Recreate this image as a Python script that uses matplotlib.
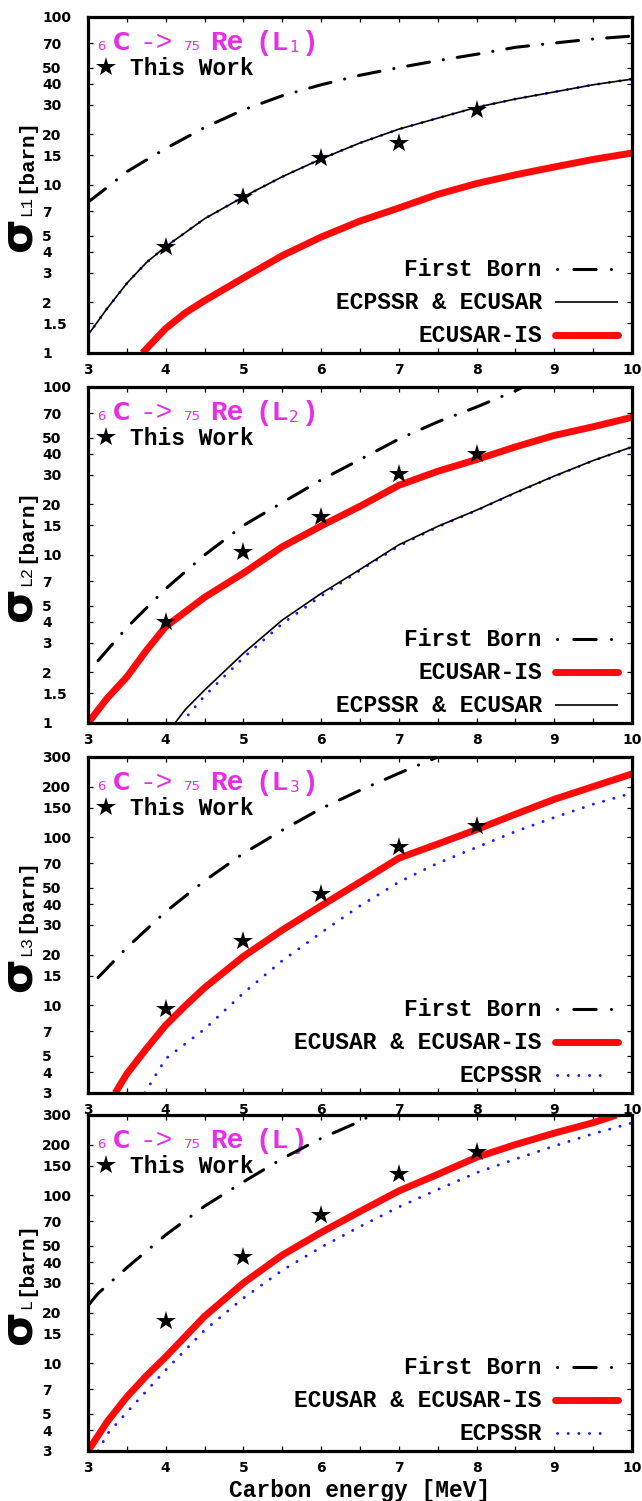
import matplotlib
matplotlib.use("Agg")
import matplotlib.pyplot as plt
from matplotlib.lines import Line2D
from matplotlib.transforms import ScaledTranslation
from matplotlib.ticker import FixedLocator, NullLocator, FixedFormatter

# ---------------- data ----------------
E_exp = [4, 5, 6, 7, 8]

# L1 subshell
E_L1_born = [3, 3.25, 3.5, 4, 4.5, 5, 5.5, 6, 6.5, 7, 7.5, 8, 8.5, 9, 9.5, 10]
L1_born = [7.9, 9.7, 12, 16.5, 22, 28, 34, 39.5, 45, 50, 55, 60, 66, 70, 74, 77]
E_L1_ecpssr = [3, 3.25, 3.5, 3.75, 4, 4.25, 4.5, 5, 5.5, 6, 6.5, 7, 7.5, 8, 8.5, 9, 9.5, 10]
L1_ecpssr = [1.28, 1.85, 2.6, 3.45, 4.3, 5.2, 6.3, 8.5, 11.2, 14.3, 17.8, 21.5, 25, 29, 32.5, 35.8, 39.5, 42.7]
E_L1_is = [3.7, 4, 4.25, 4.5, 5, 5.5, 6, 6.5, 7, 7.5, 8, 8.5, 9, 9.5, 10]
L1_is = [1.0, 1.4, 1.73, 2.05, 2.8, 3.8, 4.9, 6.1, 7.3, 8.8, 10.2, 11.5, 12.8, 14.2, 15.5]
L1_exp = [4.3, 8.5, 14.5, 17.8, 28]

# L2 subshell
E_L2_born = [3.13, 3.5, 4, 4.5, 5, 5.5, 6, 6.5, 7, 7.5, 8, 8.5, 8.7]
L2_born = [2.35, 3.7, 6.3, 10, 15, 20.5, 28, 37, 49, 62, 76, 95, 105]
E_L2_is = [3, 3.25, 3.5, 3.75, 4, 4.5, 5, 5.5, 6, 6.5, 7, 7.5, 8, 8.5, 9, 9.5, 10]
L2_is = [1.0, 1.41, 1.88, 2.7, 3.75, 5.6, 7.8, 11.2, 14.9, 19.5, 26, 31.5, 37, 44, 51.5, 58, 66]
E_L2_ecusar = [4.12, 4.25, 4.5, 5, 5.5, 6, 6.5, 7, 7.5, 8, 8.5, 9, 9.5, 10]
L2_ecusar = [1.0, 1.2, 1.57, 2.6, 4.1, 5.9, 8.2, 11.5, 14.8, 18.5, 23.5, 29.5, 36.5, 44]
E_L2_ecpssr = [4.2, 4.5, 5, 5.5, 6, 6.5, 7, 7.5, 8, 8.5, 9, 9.5, 10]
L2_ecpssr = [1.0, 1.45, 2.45, 3.9, 5.7, 8.1, 11.3, 14.7, 18.4, 23.4, 29.4, 36.4, 44]
L2_exp = [4.0, 10.4, 16.8, 30.3, 39.9]

# L3 subshell
E_L3_born = [3.13, 3.5, 4, 4.5, 5, 5.5, 6, 6.5, 7, 7.5]
L3_born = [14.6, 22, 36, 55, 80, 110, 148, 190, 240, 300]
E_L3_is = [3.35, 3.5, 3.75, 4, 4.25, 4.5, 5, 5.5, 6, 6.5, 7, 7.5, 8, 8.5, 9, 9.5, 10]
L3_is = [3.0, 3.9, 5.5, 7.6, 9.9, 12.7, 19.5, 28, 39, 54, 75, 91, 111, 137, 168, 200, 238]
E_L3_ecpssr = [3.73, 4, 4.5, 5, 5.5, 6, 6.5, 7, 7.5, 8, 8.5, 9, 9.5, 10]
L3_ecpssr = [3.0, 4.8, 7.2, 11.8, 18.4, 27, 39, 54, 70, 87, 108, 131, 157, 183]
L3_exp = [9.5, 24.2, 46, 87, 116]

# total L shell
E_L_born = [3.0, 3.13, 3.5, 4, 4.5, 5, 5.5, 6, 6.5, 6.65]
L_born = [22, 26, 37, 58, 86, 120, 165, 218, 275, 300]
E_L_is = [3, 3.25, 3.5, 3.75, 4, 4.5, 5, 5.5, 6, 6.5, 7, 7.5, 8, 8.5, 9, 9.5, 9.8]
L_is = [3.0, 4.5, 6.3, 8.4, 10.9, 19, 30, 44, 60, 80, 106, 133, 168, 200, 234, 270, 300]
E_L_ecpssr = [3.13, 3.25, 3.5, 4, 4.5, 5, 5.5, 6, 6.5, 7, 7.5, 8, 8.5, 9, 9.5, 10]
L_ecpssr = [3.0, 3.8, 5.1, 9.1, 15.7, 24.4, 35.7, 49, 65, 85, 108, 136, 164, 196, 232, 269]
L_exp = [17.8, 42.8, 76, 134, 180]

xticks = [3, 4, 5, 6, 7, 8, 9, 10]
xminor = [3.5, 4.5, 5.5, 6.5, 7.5, 8.5, 9.5]
yticks_low = [1, 1.5, 2, 3, 4, 5, 7, 10, 15, 20, 30, 40, 50, 70, 100]
ytick_labels_low = ["1", "1.5", "2", "3", "4", "5", "7", "10", "15", "20", "30", "40", "50", "70", "100"]
yticks_high = [3, 4, 5, 7, 10, 15, 20, 30, 40, 50, 70, 100, 150, 200, 300]
ytick_labels_high = ["3", "4", "5", "7", "10", "15", "20", "30", "40", "50", "70", "100", "150", "200", "300"]

# ---------------- styles ----------------
MAGENTA = "#e62ee6"
RED = "#ff0a0a"
BLUE = "#1a1aff"
MONO = "Liberation Mono"
SANS = "DejaVu Sans"

born_style = dict(color="black", lw=2.2, dashes=(7.2, 4.6, 0.05, 4.6),
                  dash_capstyle="round", solid_capstyle="round")
born_key_dashes = (0.05, 5.3, 7.3, 5.0)
thin_style = dict(color="black", lw=1.2, solid_capstyle="butt")
red_style = dict(color=RED, lw=5.0, solid_capstyle="butt", solid_joinstyle="round")
red_key = dict(color=RED, lw=5.0, solid_capstyle="round")
blue_style = dict(color=BLUE, lw=2.1, dashes=(0.05, 3.6), dash_capstyle="round")
star_style = dict(marker="*", ms=15, color="black", mew=0, ls="none")

W, H, DPI = 642, 1501, 100
fig = plt.figure(figsize=(W / DPI, H / DPI), dpi=DPI)
fig.patch.set_facecolor("white")
renderer = fig.canvas.get_renderer()

PX = 72.0 / DPI  # points per pixel


def px_shift(dx_px, dy_px):
    return ScaledTranslation(dx_px * PX / 72.0, dy_px * PX / 72.0, fig.dpi_scale_trans)


def text_run(ax, anchor, dx_px, dy_px, pieces, rotate=False, center=False):
    """Lay out differently styled text pieces along one baseline.
    pieces: (string, props, gap_px, raise_px)."""
    made = []
    for s, props, gap, rise in pieces:
        kw = dict(ha="left", va="baseline")
        if rotate:
            kw.update(rotation=90, rotation_mode="anchor")
        t = ax.text(anchor[0], anchor[1], s, transform=ax.transAxes, **kw, **props)
        bb = t.get_window_extent(renderer)
        made.append((t, gap, rise, bb.height if rotate else bb.width))
    total = sum(g + w for _, g, _, w in made)
    pos = -total / 2.0 if center else 0.0
    for t, gap, rise, w in made:
        pos += gap
        if rotate:
            t.set_transform(ax.transAxes + px_shift(dx_px - rise, dy_px + pos))
        else:
            t.set_transform(ax.transAxes + px_shift(dx_px + pos, dy_px + rise))
        pos += w


def key_line(ax, x0, x1, y, **style):
    ln = Line2D([x0, x1], [y, y], transform=ax.transAxes, **style)
    ln.set_clip_on(False)
    ax.add_line(ln)


panels = [
    dict(top=17, ylim=(1, 100), ticks=(yticks_low, ytick_labels_low), sub="1", ylab="L1",
         curves=[(E_L1_ecpssr, L1_ecpssr, blue_style, 2),
                 (E_L1_ecpssr, L1_ecpssr, thin_style, 3),
                 (E_L1_is, L1_is, red_style, 4),
                 (E_L1_born, L1_born, born_style, 5)],
         exp=L1_exp,
         keys=[("First Born", "born"), ("ECPSSR & ECUSAR", "thin"), ("ECUSAR-IS", "red")]),
    dict(top=387, ylim=(1, 100), ticks=(yticks_low, ytick_labels_low), sub="2", ylab="L2",
         curves=[(E_L2_ecpssr, L2_ecpssr, blue_style, 2),
                 (E_L2_ecusar, L2_ecusar, thin_style, 3),
                 (E_L2_is, L2_is, red_style, 4),
                 (E_L2_born, L2_born, born_style, 5)],
         exp=L2_exp,
         keys=[("First Born", "born"), ("ECUSAR-IS", "red"), ("ECPSSR & ECUSAR", "thin")]),
    dict(top=757, ylim=(3, 300), ticks=(yticks_high, ytick_labels_high), sub="3", ylab="L3",
         curves=[(E_L3_ecpssr, L3_ecpssr, blue_style, 2),
                 (E_L3_is, L3_is, thin_style, 3),
                 (E_L3_is, L3_is, red_style, 4),
                 (E_L3_born, L3_born, born_style, 5)],
         exp=L3_exp,
         keys=[("First Born", "born"), ("ECUSAR & ECUSAR-IS", "red"), ("ECPSSR", "blue")]),
    dict(top=1115, ylim=(3, 300), ticks=(yticks_high, ytick_labels_high), sub=None, ylab="L",
         curves=[(E_L_ecpssr, L_ecpssr, blue_style, 2),
                 (E_L_is, L_is, thin_style, 3),
                 (E_L_is, L_is, red_style, 4),
                 (E_L_born, L_born, born_style, 5)],
         exp=L_exp,
         keys=[("First Born", "born"), ("ECUSAR & ECUSAR-IS", "red"), ("ECPSSR", "blue")]),
]

AX_L, AX_W, AX_H = 88, 544, 336

for i, p in enumerate(panels):
    top = p["top"]
    ax = fig.add_axes([AX_L / W, 1 - (top + AX_H) / H, AX_W / W, AX_H / H])
    ax.set_yscale("log")
    ax.set_xlim(3, 10)
    ax.set_ylim(*p["ylim"])

    for xs, ys, st, z in p["curves"]:
        ax.plot(xs, ys, zorder=z, **st)
    ax.plot(E_exp, p["exp"], zorder=6, **star_style)

    # axes frame and ticks
    for sp in ax.spines.values():
        sp.set_linewidth(2.3)
        sp.set_zorder(10)
    ax.xaxis.set_major_locator(FixedLocator(xticks))
    ax.xaxis.set_minor_locator(FixedLocator(xminor))
    ax.set_xticklabels([str(v) for v in xticks])
    yt, yl = p["ticks"]
    ax.yaxis.set_major_locator(FixedLocator(yt))
    ax.yaxis.set_major_formatter(FixedFormatter(yl))
    ax.yaxis.set_minor_locator(NullLocator())
    ax.tick_params(which="both", direction="in", top=True, right=True, length=3.6, width=0.9)
    ax.tick_params(axis="x", pad=7, labelsize=10)
    ax.tick_params(axis="y", pad=33, labelsize=10)
    for lab in ax.get_xticklabels() + ax.get_yticklabels():
        lab.set_fontfamily(SANS)
        lab.set_fontweight("bold")
    for lab in ax.get_yticklabels():
        lab.set_horizontalalignment("left")

    # panel title: 6C -> 75Re (Lx)
    tprops_small = dict(family=SANS, fontsize=9.5, color=MAGENTA)
    pieces = [
        ("6", tprops_small, 0, 0),
        ("C", dict(family=SANS, fontsize=17, fontweight="bold", color=MAGENTA), 8, 0),
        ("->", dict(family=MONO, fontsize=20, color=MAGENTA), 9, 0),
        ("75", tprops_small, 11, 0),
        ("Re", dict(family=MONO, fontsize=20, fontweight="bold", color=MAGENTA), 9, 0),
        ("(L", dict(family=MONO, fontsize=20, fontweight="bold", color=MAGENTA), 12, 0),
    ]
    if p["sub"]:
        pieces.append((p["sub"], dict(family=SANS, fontsize=11, color=MAGENTA), 1, -2))
        pieces.append((")", dict(family=MONO, fontsize=20, fontweight="bold", color=MAGENTA), 3, 0))
    else:
        pieces.append((")", dict(family=MONO, fontsize=20, fontweight="bold", color=MAGENTA), 2, 0))
    text_run(ax, (0, 1), 9, -33, pieces)

    # "This Work" key
    star_key = Line2D([0], [1], transform=ax.transAxes + px_shift(18, -50),
                      marker="*", ms=15, color="black", mew=0, ls="none")
    star_key.set_clip_on(False)
    ax.add_line(star_key)
    ax.text(0, 1, "This Work", transform=ax.transAxes + px_shift(42, -58),
            ha="left", va="baseline", family=MONO, fontweight="bold", fontsize=16.5)

    # curve key, lower right
    rows_px = [84, 51, 18]
    for (label, kind), ry in zip(p["keys"], rows_px):
        yfrac = ry / AX_H
        ax.text(0, yfrac, label, transform=ax.transAxes + px_shift(454, -7),
                ha="right", va="baseline", family=MONO, fontweight="bold", fontsize=16.5)
        if kind == "born":
            key_line(ax, 469 / AX_W, 524 / AX_W, yfrac, color="black", lw=2.2,
                     dashes=born_key_dashes, dash_capstyle="round")
        elif kind == "thin":
            key_line(ax, 467 / AX_W, 530 / AX_W, yfrac, **thin_style)
        elif kind == "red":
            key_line(ax, 467 / AX_W, 530 / AX_W, yfrac, **red_key)
        else:
            key_line(ax, 469 / AX_W, 522 / AX_W, yfrac, **blue_style)

    # y label: sigma with shell subscript and unit
    text_run(ax, (0, 0.5), -57, 0, [
        ("σ", dict(family=SANS, fontsize=32, fontweight="bold"), 0, 0),
        (p["ylab"], dict(family=MONO, fontsize=12), 2, 0),
        ("[barn]", dict(family=MONO, fontsize=15, fontweight="bold"), 3, 0),
    ], rotate=True, center=True)

    if i == len(panels) - 1:
        ax.set_xlabel("Carbon energy [MeV]", family=MONO, fontweight="bold",
                      fontsize=16.5, labelpad=3)

fig.savefig("out.png", dpi=DPI, facecolor="white")
